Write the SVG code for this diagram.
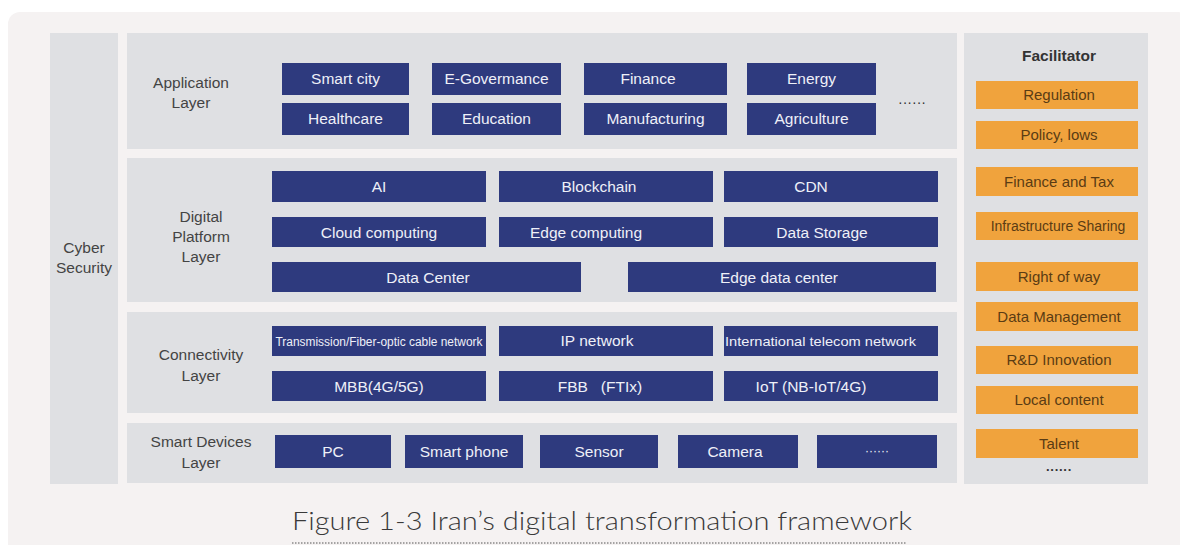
<svg xmlns="http://www.w3.org/2000/svg" width="1180" height="545" viewBox="0 0 1180 545">
<style>
.panel{fill:#dfe0e3}
.box{fill:#2e3a7e}
.bt{font-family:"Liberation Sans",Arial,sans-serif;font-size:15.5px;fill:#eef0f8;text-anchor:middle}
.lb{font-family:"Liberation Sans",Arial,sans-serif;font-size:15.5px;fill:#444;text-anchor:middle}
.ob{fill:#f0a33d}
.ot{font-family:"Liberation Sans",Arial,sans-serif;font-size:15px;fill:#5a3c14;text-anchor:middle}
</style>
<rect width="1180" height="545" fill="#ffffff"/>
<rect x="8" y="12" width="1182" height="545" rx="12" fill="#f5f2f2"/>

<g id="cyber">
<rect x="50" y="33" width="68" height="451" class="panel"/>
<text class="lb" x="84" y="253">Cyber</text>
<text class="lb" x="84" y="273">Security</text>
</g>

<g id="application-layer">
<rect x="127" y="33" width="830" height="116" class="panel"/>
<text class="lb" x="191" y="88">Application</text>
<text class="lb" x="191" y="108">Layer</text>
<rect class="box" x="282" y="63" width="127" height="32"/><text class="bt" x="345.5" y="84">Smart city</text>
<rect class="box" x="432" y="63" width="129" height="32"/><text class="bt" x="496.5" y="84">E-Govermance</text>
<rect class="box" x="584" y="63" width="143" height="32"/><text class="bt" x="648" y="84">Finance</text>
<rect class="box" x="747" y="63" width="129" height="32"/><text class="bt" x="811.5" y="84">Energy</text>
<rect class="box" x="282" y="103" width="127" height="32"/><text class="bt" x="345.5" y="124">Healthcare</text>
<rect class="box" x="432" y="103" width="129" height="32"/><text class="bt" x="496.5" y="124">Education</text>
<rect class="box" x="584" y="103" width="143" height="32"/><text class="bt" x="655.5" y="124">Manufacturing</text>
<rect class="box" x="747" y="103" width="129" height="32"/><text class="bt" x="811.5" y="124">Agriculture</text>
<text class="lb" x="912" y="107" style="font-size:14px;fill:#333">······</text>
</g>

<g id="digital-platform-layer">
<rect x="127" y="158" width="830" height="144" class="panel"/>
<text class="lb" x="201" y="222">Digital</text>
<text class="lb" x="201" y="242">Platform</text>
<text class="lb" x="201" y="262">Layer</text>
<rect class="box" x="272" y="171" width="214" height="31"/><text class="bt" x="379" y="192">AI</text>
<rect class="box" x="499" y="171" width="214" height="31"/><text class="bt" x="599" y="192">Blockchain</text>
<rect class="box" x="724" y="171" width="214" height="31"/><text class="bt" x="811" y="192">CDN</text>
<rect class="box" x="272" y="217" width="214" height="30"/><text class="bt" x="379" y="238">Cloud computing</text>
<rect class="box" x="499" y="217" width="214" height="30"/><text class="bt" x="586" y="238">Edge computing</text>
<rect class="box" x="724" y="217" width="214" height="30"/><text class="bt" x="822" y="238">Data Storage</text>
<rect class="box" x="272" y="262" width="309" height="30"/><text class="bt" x="428" y="283">Data Center</text>
<rect class="box" x="628" y="262" width="308" height="30"/><text class="bt" x="779" y="283">Edge data center</text>
</g>

<g id="connectivity-layer">
<rect x="127" y="312" width="830" height="101" class="panel"/>
<text class="lb" x="201" y="360">Connectivity</text>
<text class="lb" x="201" y="381">Layer</text>
<rect class="box" x="272" y="326" width="214" height="30"/><text class="bt" x="379" y="345.5" textLength="207" lengthAdjust="spacingAndGlyphs" style="font-size:12px">Transmission/Fiber-optic cable network</text>
<rect class="box" x="499" y="326" width="214" height="30"/><text class="bt" x="597" y="346">IP network</text>
<rect class="box" x="724" y="326" width="214" height="30"/><text class="bt" x="820.5" y="346" textLength="191" lengthAdjust="spacingAndGlyphs" style="font-size:13.5px">International telecom network</text>
<rect class="box" x="272" y="371" width="214" height="30"/><text class="bt" x="379" y="392">MBB(4G/5G)</text>
<rect class="box" x="499" y="371" width="214" height="30"/><text class="bt" x="600" y="392" style="white-space:pre">FBB   (FTIx)</text>
<rect class="box" x="724" y="371" width="214" height="30"/><text class="bt" x="811" y="392">IoT (NB-IoT/4G)</text>
</g>

<g id="smart-devices-layer">
<rect x="127" y="423" width="830" height="60" class="panel"/>
<text class="lb" x="201" y="447">Smart Devices</text>
<text class="lb" x="201" y="468">Layer</text>
<rect class="box" x="275" y="435" width="116" height="33"/><text class="bt" x="333" y="457">PC</text>
<rect class="box" x="405" y="435" width="118" height="33"/><text class="bt" x="464" y="457">Smart phone</text>
<rect class="box" x="540" y="435" width="118" height="33"/><text class="bt" x="599" y="457">Sensor</text>
<rect class="box" x="678" y="435" width="120" height="33"/><text class="bt" x="735" y="457">Camera</text>
<rect class="box" x="817" y="435" width="120" height="33"/><text class="bt" x="877" y="455" style="font-size:12px">······</text>
</g>

<g id="facilitator">
<rect x="964" y="33" width="184" height="451" class="panel"/>
<text x="1059" y="61" style="font-family:'Liberation Sans',Arial,sans-serif;font-size:15.5px;font-weight:bold;fill:#333;text-anchor:middle">Facilitator</text>
<rect class="ob" x="976" y="81" width="162" height="28"/><text class="ot" x="1059" y="100">Regulation</text>
<rect class="ob" x="976" y="121" width="162" height="28"/><text class="ot" x="1059" y="140">Policy, lows</text>
<rect class="ob" x="976" y="167" width="162" height="29"/><text class="ot" x="1059" y="187">Finance and Tax</text>
<rect class="ob" x="976" y="212" width="162" height="28"/><text class="ot" x="1058" y="231" style="font-size:14px">Infrastructure Sharing</text>
<rect class="ob" x="976" y="262" width="162" height="29"/><text class="ot" x="1059" y="282">Right of way</text>
<rect class="ob" x="976" y="302" width="162" height="29"/><text class="ot" x="1059" y="322">Data Management</text>
<rect class="ob" x="976" y="346" width="162" height="28"/><text class="ot" x="1059" y="365">R&amp;D Innovation</text>
<rect class="ob" x="976" y="386" width="162" height="28"/><text class="ot" x="1059" y="405">Local content</text>
<rect class="ob" x="976" y="429" width="162" height="29"/><text class="ot" x="1059" y="449">Talent</text>
<text x="1059" y="474" style="font-family:'Liberation Sans',Arial,sans-serif;font-size:13px;font-weight:bold;fill:#333;text-anchor:middle">······</text>
</g>

<g id="caption">
<text x="292" y="530" textLength="620" lengthAdjust="spacingAndGlyphs" style="font-family:Lato,'Liberation Sans',sans-serif;font-weight:300;font-size:25px;fill:#3a3a3a">Figure 1-3 Iran’s digital transformation framework</text>
<line x1="292" y1="543" x2="906" y2="543" stroke="#555" stroke-width="1" stroke-dasharray="1.5,1.5"/>
</g>
</svg>
